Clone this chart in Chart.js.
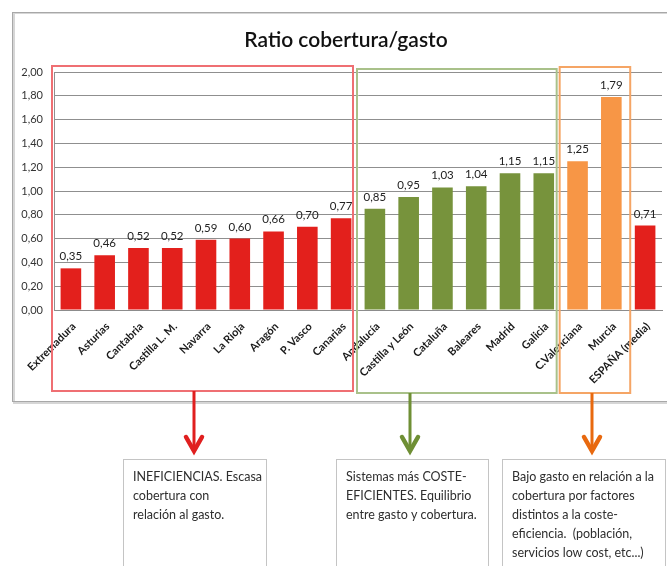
<!DOCTYPE html>
<html><head><meta charset="utf-8">
<script src="https://cdn.jsdelivr.net/npm/chart.js@4"></script>
<style>html,body{margin:0;padding:0;background:#fff}canvas{display:block}</style>
</head><body>
<canvas id="c" width="667" height="566"></canvas>
<script>
// ---- data ----
const categories = ["Extremadura","Asturias","Cantabria","Castilla L. M.","Navarra","La Rioja","Aragón","P. Vasco","Canarias","Andalucía","Castilla y León","Cataluña","Baleares","Madrid","Galicia","C.Valenciana","Murcia","ESPAÑA (media)"];
const values = [0.35,0.46,0.52,0.52,0.59,0.60,0.66,0.70,0.77,0.85,0.95,1.03,1.04,1.15,1.15,1.25,1.79,0.71];
const barGroup = ["r","r","r","r","r","r","r","r","r","g","g","g","g","g","g","o","o","r"];
const yMin = 0, yMax = 2, yStep = 0.2;
const title = "Ratio cobertura/gasto";
// group boxes: [firstCategory, lastCategory]
const groupRanges = { r:[0,8], g:[9,14], o:[15,16] };
const notes = {
  r:["INEFICIENCIAS. Escasa","cobertura con","relación al gasto."],
  g:["Sistemas más COSTE-","EFICIENTES. Equilibrio","entre gasto y cobertura."],
  o:["Bajo gasto en relación a la","cobertura por factores","distintos a la coste-","eficiencia.  (población,","servicios low cost, etc...)"]
};

// ---- styles ----
const barColors = { r:"#e3201c", g:"#77933c", o:"#f79646" };
const boxColors = { r:"#ef6f73", g:"#a9c18a", o:"#f5a565" };
const arrowColors = { r:"#e01f1f", g:"#6f8f35", o:"#e8690f" };
const fmt = v => v.toFixed(2).replace(".", ",");

const decor = {
  id: "decor",
  beforeDraw(chart) {
    const ctx = chart.ctx;
    ctx.save();
    ctx.fillStyle = "#fff";
    ctx.fillRect(0, 0, chart.width, chart.height);
    // chart frame
    ctx.strokeStyle = "#d6d6d6"; ctx.lineWidth = 2;
    ctx.strokeRect(14, 13, 700, 390);
    ctx.strokeStyle = "#a8a8a8"; ctx.lineWidth = 1;
    ctx.strokeRect(12.5, 12.5, 700, 389);
    // title
    ctx.fillStyle = "#111";
    ctx.font = "600 21px Lato, 'Open Sans', sans-serif";
    ctx.textAlign = "center"; ctx.textBaseline = "middle";
    ctx.fillText(title, 346, 40);
    ctx.restore();
  },
  afterDatasetsDraw(chart) {
    const ctx = chart.ctx;
    const meta = chart.getDatasetMeta(0);
    ctx.save();
    ctx.fillStyle = "#222";
    ctx.font = "11.5px Lato, sans-serif";
    ctx.textAlign = "center"; ctx.textBaseline = "alphabetic";
    meta.data.forEach((bar, i) => {
      ctx.fillText(fmt(values[i]), bar.x, bar.y - 8);
    });
    ctx.restore();
  },
  afterDraw(chart) {
    const ctx = chart.ctx;
    const xs = chart.scales.x;
    const cw = xs.width / categories.length;
    const edgeL = i => xs.getPixelForValue(i) - cw / 2;
    const edgeR = i => xs.getPixelForValue(i) + cw / 2;
    const boxes = {
      r: { l: edgeL(groupRanges.r[0]) - 2, r: edgeR(groupRanges.r[1]) - 5, t: 66, b: 391 },
      g: { l: edgeL(groupRanges.g[0]) - 1, r: edgeR(groupRanges.g[1]) - 4, t: 69, b: 393 },
      o: { l: edgeL(groupRanges.o[0]) - 1, r: edgeR(groupRanges.o[1]) + 2, t: 67, b: 393 }
    };
    const arrowX = { r: 194, g: 410, o: 592 };
    const noteBox = { r:[123,266], g:[336,488], o:[502,665] };
    ctx.save();
    for (const k of ["r","g","o"]) {
      const b = boxes[k];
      ctx.strokeStyle = boxColors[k]; ctx.lineWidth = 2;
      ctx.strokeRect(b.l, b.t, b.r - b.l, b.b - b.t);
      // arrow
      const ax = arrowX[k];
      ctx.strokeStyle = arrowColors[k];
      ctx.lineWidth = 3; ctx.lineCap = "butt";
      ctx.beginPath(); ctx.moveTo(ax, b.b); ctx.lineTo(ax, 450); ctx.stroke();
      ctx.lineWidth = 4.5; ctx.lineJoin = "miter"; ctx.lineCap = "round";
      ctx.beginPath(); ctx.moveTo(ax - 8, 437); ctx.lineTo(ax, 451); ctx.lineTo(ax + 8, 437); ctx.stroke();
      // note box
      const [nl, nr] = noteBox[k];
      ctx.strokeStyle = "#c4c4c4"; ctx.lineWidth = 1;
      ctx.strokeRect(nl + 0.5, 459.5, nr - nl, 120);
      ctx.fillStyle = "#2e2e2e";
      ctx.font = "12.5px Lato, sans-serif";
      ctx.textAlign = "left"; ctx.textBaseline = "middle";
      notes[k].forEach((line, i) => ctx.fillText(line, nl + 10, 477 + i * 19));
    }
    ctx.restore();
  }
};

new Chart(document.getElementById("c"), {
  type: "bar",
  data: {
    labels: categories,
    datasets: [{
      data: values,
      backgroundColor: barGroup.map(g => barColors[g]),
      borderWidth: 0,
      barPercentage: 0.61,
      categoryPercentage: 1
    }]
  },
  options: {
    responsive: false,
    animation: false,
    layout: { padding: { top: 72, left: 12, right: 5, bottom: 0 } },
    plugins: { legend: { display: false }, tooltip: { enabled: false }, title: { display: false } },
    scales: {
      x: {
        grid: { display: false },
        border: { display: true, color: "#8c8c8c" },
        ticks: {
          autoSkip: false, maxRotation: 45, minRotation: 45, padding: 2, labelOffset: 3,
          color: "#1a1a1a", font: { family: "Lato, sans-serif", size: 11, weight: "bold" }
        },
        afterFit: s => { s.height = 256; }
      },
      y: {
        min: yMin, max: yMax,
        grid: { color: "#8f8f8f", drawTicks: false, lineWidth: 1 },
        border: { display: true, color: "#8f8f8f" },
        ticks: {
          stepSize: yStep, padding: 11,
          color: "#333", font: { family: "Lato, sans-serif", size: 11 },
          callback: v => fmt(v)
        },
        afterFit: s => { s.width = 42; }
      }
    }
  },
  plugins: [decor]
});
</script>
</body></html>
